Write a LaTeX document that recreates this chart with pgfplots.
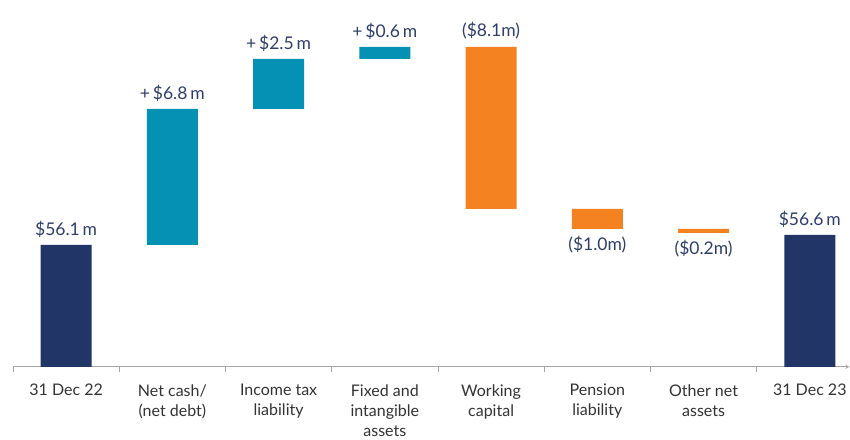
\documentclass[border=0pt]{standalone}
\usepackage{pgfplots}
\pgfplotsset{compat=1.18}
\usepackage{fontspec}
\setmainfont{Lato}
\definecolor{cnavy}{HTML}{213566}
\definecolor{cteal}{HTML}{0591B4}
\definecolor{corng}{HTML}{F58220}
\definecolor{clbl}{HTML}{2E3D6B}
\definecolor{caxg}{HTML}{A6A6A6}
\definecolor{ctxt}{HTML}{333333}
\tikzset{vl/.style={font=\fontsize{17.5}{20}\selectfont, text=clbl}}
\begin{document}
\begin{tikzpicture}
\begin{axis}[name=ax,
  scale only axis, width=837pt, height=367pt,
  xmin=0, xmax=7.874, ymin=50, ymax=68.35,
  ybar stacked, bar width=0.48,
  axis x line=bottom, axis y line=none,
  axis line style={draw=caxg, line width=0.9pt},
  ytick=\empty,
  xtick={0,1,2,3,4,5,6,7},
  xticklabels={},
  tick align=outside, major tick length=5pt,
  every tick/.style={draw=caxg, line width=0.9pt},
  extra x ticks={0.5,1.5,2.5,3.5,4.5,5.5,6.5,7.5},
  extra x tick labels={31 Dec 22, Net cash/\\(net debt), Income tax\\liability, Fixed and\\intangible\\assets, Working\\capital, Pension\\liability, Other net\\assets, 31 Dec 23},
  extra x tick style={major tick length=0pt},
  xticklabel style={align=center, font=\fontsize{16}{20}\selectfont, text=ctxt, anchor=north, yshift=-14pt},
  clip=true, clip mode=individual,
]
\addplot[draw=none, fill=none] coordinates {(0.5,0) (1.5,56.1) (2.5,62.9) (3.5,65.4) (4.5,57.9) (5.5,56.9) (6.5,56.7) (7.5,0)};
\addplot[draw=none, fill=cnavy] coordinates {(0.5,56.1) (1.5,0) (2.5,0) (3.5,0) (4.5,0) (5.5,0) (6.5,0) (7.5,56.6)};
\addplot[draw=none, fill=cteal] coordinates {(0.5,0) (1.5,6.8) (2.5,2.5) (3.5,0.6) (4.5,0) (5.5,0) (6.5,0) (7.5,0)};
\addplot[draw=none, fill=corng] coordinates {(0.5,0) (1.5,0) (2.5,0) (3.5,0) (4.5,8.1) (5.5,1.0) (6.5,0.2) (7.5,0)};
\node[vl, anchor=south, yshift=4pt] at (axis cs:0.5,56.1) {\$56.1\,m};
\node[vl, anchor=south, yshift=4pt] at (axis cs:1.5,62.9) {+\,\$6.8\,m};
\node[vl, anchor=south, yshift=4pt] at (axis cs:2.5,65.4) {+\,\$2.5\,m};
\node[vl, anchor=south, yshift=4pt] at (axis cs:3.5,66.0) {+\,\$0.6\,m};
\node[vl, anchor=south, yshift=4pt] at (axis cs:4.5,66.0) {(\$8.1m)};
\node[vl, anchor=north, yshift=-4pt] at (axis cs:5.5,56.9) {(\$1.0m)};
\node[vl, anchor=north, yshift=-4pt] at (axis cs:6.5,56.7) {(\$0.2m)};
\node[vl, anchor=south, yshift=4pt] at (axis cs:7.5,56.6) {\$56.6\,m};
\end{axis}
\path[use as bounding box] ([xshift=-13pt,yshift=-70pt]ax.south west) rectangle ++(850pt,437pt);
\end{tikzpicture}
\end{document}
